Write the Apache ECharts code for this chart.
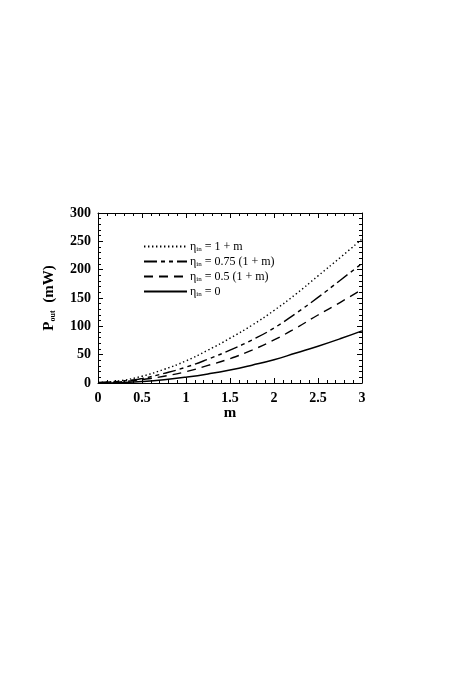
<!DOCTYPE html>
<html>
<head>
<meta charset="utf-8">
<script src="https://cdn.jsdelivr.net/npm/echarts@6/dist/echarts.min.js"></script>
<style>
  html, body { margin: 0; padding: 0; background: #fff; }
  #chart { width: 463px; height: 675px; }
</style>
</head>
<body>
<div id="chart"></div>
<script>
// m values along the x axis
const mValues = [0, 0.25, 0.5, 0.75, 1, 1.25, 1.5, 1.75, 2, 2.25, 2.5, 2.75, 3]
// P_out (mW)
const etaFull = [1, 4, 12, 24, 39, 58, 79, 102, 128, 157, 189, 221, 254]       // eta_in = 1 + m
const eta075 = [1, 3, 8, 17, 28, 42, 58, 76, 97, 123, 151, 181, 211]           // eta_in = 0.75 (1 + m)
const eta05 = [0.5, 2, 6, 12, 20, 31, 43, 58, 76, 97, 120, 142, 165]           // eta_in = 0.5 (1 + m)
const etaZero = [0, 0.6, 2.6, 5.8, 10.3, 16, 23, 31.5, 41, 53, 65, 78, 92]     // eta_in = 0

const seriesNames = ['full', 'q75', 'half', 'zero']
const legendLabels = {
  full: '{t|η}{s|in}{t| = 1 + m}',
  q75: '{t|η}{s|in}{t| = 0.75 (1 + m)}',
  half: '{t|η}{s|in}{t| = 0.5 (1 + m)}',
  zero: '{t|η}{s|in}{t| = 0}'
}

const font = '"Liberation Serif", "DejaVu Serif", serif'

function pairs(ys) {
  return mValues.map((m, i) => [m, ys[i]])
}

const chart = echarts.init(document.getElementById('chart'))

const tickAxisCommon = {
  axisLine: { show: true, onZero: false, lineStyle: { color: '#000', width: 1 } },
  axisTick: { show: true, inside: true, length: 5, lineStyle: { color: '#000' } },
  minorTick: { show: true, splitNumber: 5, length: 3, lineStyle: { color: '#000' } },
  splitLine: { show: false }
}

chart.setOption({
  animation: false,
  grid: { left: 98, top: 213, right: 101, bottom: 292 },
  legend: {
    orient: 'vertical',
    left: 138,
    top: 235,
    itemWidth: 43,
    itemHeight: 10,
    itemGap: 2,
    data: seriesNames,
    itemStyle: { opacity: 0 },
    formatter: name => legendLabels[name],
    textStyle: {
      fontFamily: font,
      color: '#000',
      padding: [0, 0, 0, -2],
      rich: {
        t: { fontFamily: font, fontSize: 12, color: '#000', lineHeight: 12 },
        s: { fontFamily: font, fontSize: 7, color: '#000', padding: [6, 0, 0, 0], lineHeight: 11 }
      }
    }
  },
  xAxis: [
    Object.assign({}, tickAxisCommon, {
      type: 'value',
      position: 'bottom',
      min: 0,
      max: 3,
      interval: 0.5,
      name: 'm',
      nameLocation: 'middle',
      nameGap: 22,
      nameTextStyle: { fontFamily: font, fontWeight: 'bold', fontSize: 15, color: '#000' },
      axisLabel: {
        margin: 8,
        fontFamily: font,
        fontWeight: 'bold',
        fontSize: 14,
        color: '#000',
        formatter: v => String(v)
      }
    }),
    Object.assign({}, tickAxisCommon, {
      type: 'value',
      position: 'top',
      min: 0,
      max: 3,
      interval: 0.5,
      axisLabel: { show: false }
    })
  ],
  yAxis: [
    Object.assign({}, tickAxisCommon, {
      type: 'value',
      position: 'left',
      min: 0,
      max: 300,
      interval: 50,
      name: '{b|P}{s|out}{b|  (mW)}',
      nameLocation: 'middle',
      nameGap: 41,
      nameRotate: 90,
      nameTextStyle: {
        color: '#000',
        rich: {
          b: { fontFamily: font, fontWeight: 'bold', fontSize: 15, color: '#000' },
          s: { fontFamily: font, fontWeight: 'bold', fontSize: 8, color: '#000', padding: [8, 0, 0, 0] }
        }
      },
      axisLabel: {
        margin: 7,
        fontFamily: font,
        fontWeight: 'bold',
        fontSize: 14,
        color: '#000'
      }
    }),
    Object.assign({}, tickAxisCommon, {
      type: 'value',
      position: 'right',
      min: 0,
      max: 300,
      interval: 50,
      axisLabel: { show: false }
    })
  ],
  series: [
    {
      name: 'full',
      type: 'line',
      smooth: true,
      symbol: 'none',
      data: pairs(etaFull),
      itemStyle: { color: '#000' },
      lineStyle: { color: '#000', width: 1.4, type: [1.4, 2.6] }
    },
    {
      name: 'q75',
      type: 'line',
      smooth: true,
      symbol: 'none',
      data: pairs(eta075),
      itemStyle: { color: '#000' },
      lineStyle: { color: '#000', width: 1.4, type: [13, 4, 4, 4, 4, 4] }
    },
    {
      name: 'half',
      type: 'line',
      smooth: true,
      symbol: 'none',
      data: pairs(eta05),
      itemStyle: { color: '#000' },
      lineStyle: { color: '#000', width: 1.4, type: [9, 6] }
    },
    {
      name: 'zero',
      type: 'line',
      smooth: true,
      symbol: 'none',
      data: pairs(etaZero),
      itemStyle: { color: '#000' },
      lineStyle: { color: '#000', width: 1.5 }
    }
  ]
})
</script>
</body>
</html>
